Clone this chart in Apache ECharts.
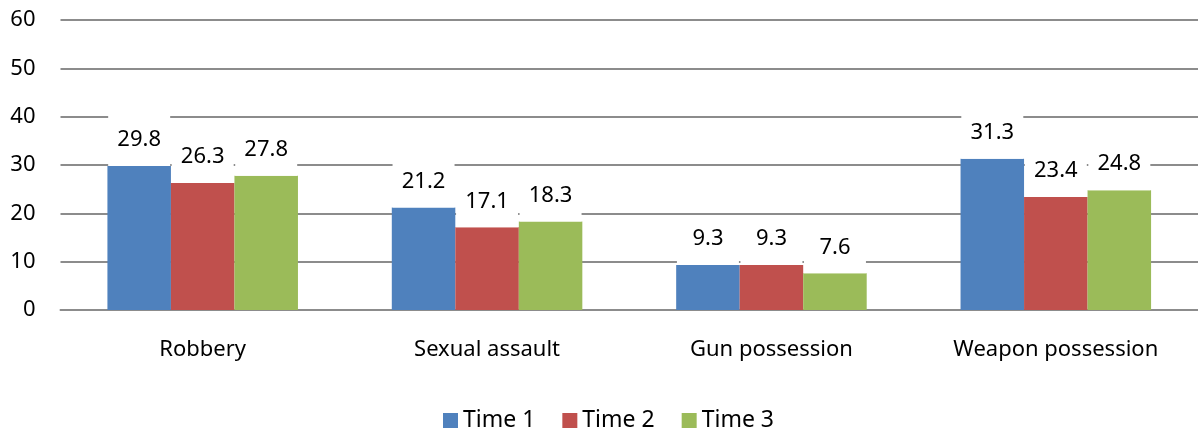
<!DOCTYPE html>
<html>
<head>
<meta charset="utf-8">
<script src="https://cdn.jsdelivr.net/npm/echarts@6/dist/echarts.min.js"></script>
<style>
  html, body { margin: 0; padding: 0; background: #fff; }
  #chart { width: 1198px; height: 437px; }
</style>
</head>
<body>
<div id="chart"></div>
<script>
// Offence categories and the share recorded at each time point
const categories = ['Robbery', 'Sexual assault', 'Gun possession', 'Weapon possession'];
const time1 = [29.8, 21.2, 9.3, 31.3];
const time2 = [26.3, 17.1, 9.3, 23.4];
const time3 = [27.8, 18.3, 7.6, 24.8];
const seriesNames = ['Time 1', 'Time 2', 'Time 3'];
const seriesColors = ['#4F81BD', '#C0504D', '#9BBB59'];

const FONT = 'Noto Sans';
const gridColor = '#8c8c8c';

const chart = echarts.init(document.getElementById('chart'), null, { renderer: 'canvas' });

function barSeries(name, values, color) {
  return {
    name: name,
    type: 'bar',
    data: values,
    barGap: '0%',
    barCategoryGap: '33%',
    itemStyle: { color: color },
    label: {
      show: true,
      position: 'top',
      distance: 0,
      color: '#000',
      fontFamily: FONT,
      fontSize: 22,
      lineHeight: 24,
      backgroundColor: '#ffffff',
      width: 62,
      align: 'center',
      padding: [12, 0, 14, 0],
      formatter: p => p.value.toFixed(1)
    }
  };
}

chart.setOption({
  animation: false,
  backgroundColor: '#ffffff',
  textStyle: { fontFamily: FONT },
  grid: { left: 60.5, right: 0, top: 20, bottom: 127, containLabel: false },
  legend: {
    bottom: 0,
    left: 438,
    itemWidth: 15,
    itemHeight: 15,
    itemGap: 27,
    icon: 'rect',
    textStyle: { fontFamily: FONT, fontSize: 23, color: '#000' },
    data: seriesNames
  },
  xAxis: {
    type: 'category',
    data: categories,
    axisLine: { show: true, lineStyle: { color: gridColor, width: 2 } },
    axisTick: { show: false },
    axisLabel: { color: '#000', fontFamily: FONT, fontSize: 22, margin: 29 }
  },
  yAxis: {
    type: 'value',
    min: 0,
    max: 60,
    interval: 10,
    axisLine: { show: false },
    axisTick: { show: false },
    axisLabel: { color: '#000', fontFamily: FONT, fontSize: 22, margin: 25 },
    splitLine: { lineStyle: { color: gridColor, width: 2 } }
  },
  series: [
    barSeries(seriesNames[0], time1, seriesColors[0]),
    barSeries(seriesNames[1], time2, seriesColors[1]),
    barSeries(seriesNames[2], time3, seriesColors[2])
  ]
});
</script>
</body>
</html>
